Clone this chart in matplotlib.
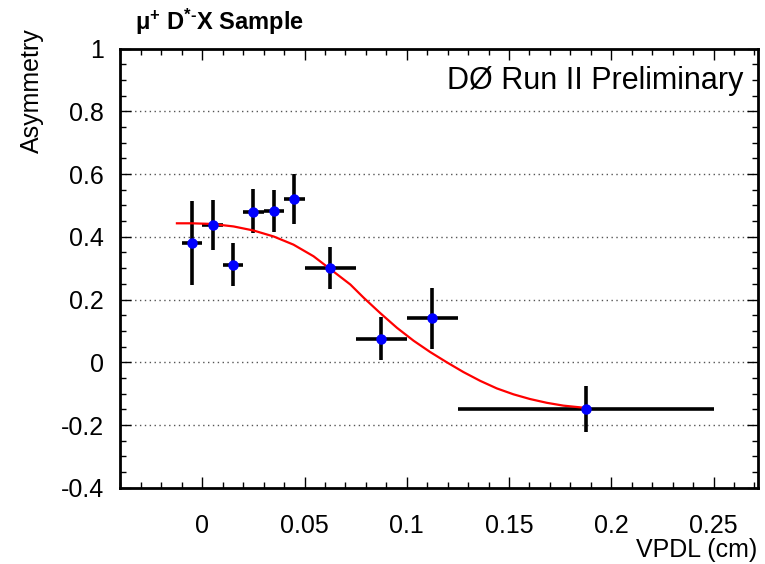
import matplotlib
matplotlib.use('Agg')
from matplotlib import pyplot as plt
from matplotlib.ticker import MultipleLocator, FormatStrFormatter

plt.rcParams['font.family'] = ['Liberation Sans', 'DejaVu Sans']
plt.rcParams['axes.unicode_minus'] = False
plt.rcParams['mathtext.fontset'] = 'custom'
plt.rcParams['mathtext.rm'] = 'Liberation Sans:bold'
plt.rcParams['mathtext.bf'] = 'Liberation Sans:bold'
plt.rcParams['mathtext.it'] = 'Liberation Sans:italic'

# data points (VPDL bin centre, half width, asymmetry, lower/upper error)
vpdl = [-0.005, 0.005, 0.015, 0.025, 0.035, 0.045, 0.0625, 0.0875, 0.1125, 0.1875]
vpdl_err = [0.005, 0.005, 0.005, 0.005, 0.005, 0.005, 0.0125, 0.0125, 0.0125, 0.0625]
asym = [0.379, 0.438, 0.311, 0.480, 0.482, 0.520, 0.300, 0.074, 0.141, -0.148]
asym_lo = [0.134, 0.080, 0.068, 0.069, 0.066, 0.079, 0.066, 0.068, 0.097, 0.074]
asym_hi = [0.134, 0.079, 0.068, 0.073, 0.068, 0.080, 0.068, 0.070, 0.097, 0.073]

# fit curve
fit_x = [-0.0124, -0.005, 0.0047, 0.0153, 0.0251, 0.0349, 0.0446, 0.0544, 0.0626,
         0.0724, 0.0789, 0.087, 0.0952, 0.1033, 0.1114, 0.1196, 0.1277, 0.1359,
         0.144, 0.1522, 0.1603, 0.1685, 0.1766, 0.1856, 0.1875]
fit_y = [0.443, 0.443, 0.441, 0.433, 0.420, 0.401, 0.375, 0.338, 0.297,
         0.248, 0.206, 0.157, 0.110, 0.069, 0.033, 0.000, -0.031, -0.059,
         -0.083, -0.102, -0.117, -0.129, -0.138, -0.144, -0.147]

fig = plt.figure(figsize=(7.65, 5.64), dpi=100)
ax = fig.add_axes([0.1575, 0.135, 0.834, 0.779])

ax.set_xlim(-0.04, 0.272)
ax.set_ylim(-0.4, 1.0)

for yv in [-0.2, 0, 0.2, 0.4, 0.6, 0.8]:
    ax.axhline(yv, color='#555555', lw=1.0, ls=(0, (1, 2.5)), zorder=1)

ax.errorbar(vpdl, asym, xerr=vpdl_err, yerr=[asym_lo, asym_hi], fmt='none',
            ecolor='black', elinewidth=2.6, capsize=0, zorder=2)
ax.plot(fit_x, fit_y, color='red', lw=1.6, zorder=3, solid_joinstyle='round')
ax.plot(vpdl, asym, 'o', color='blue', ms=6.5, mec='blue', zorder=4)

ax.xaxis.set_major_locator(MultipleLocator(0.05))
ax.xaxis.set_minor_locator(MultipleLocator(0.01))
ax.yaxis.set_major_locator(MultipleLocator(0.2))
ax.yaxis.set_minor_locator(MultipleLocator(0.05))
ax.xaxis.set_major_formatter(FormatStrFormatter('%g'))
ax.yaxis.set_major_formatter(FormatStrFormatter('%g'))
ax.tick_params(which='both', direction='in', top=True, right=True, width=1)
ax.tick_params(which='major', length=8)
ax.tick_params(which='minor', length=4)
ax.tick_params(axis='x', labelsize=18, pad=19)
ax.tick_params(axis='y', labelsize=18, pad=12)
for sp in ax.spines.values():
    sp.set_linewidth(2)

fig.text(757 / 765, 1 - 550 / 564, 'VPDL (cm)', ha='right', va='center', fontsize=18)
fig.text(32 / 765, 1 - 28 / 564, 'Asymmetry', rotation=90, ha='center', va='top', fontsize=18)
fig.text(135 / 765, 1 - 30 / 564, r'μ$^{+}$ D$^{*\text{-}}$X Sample',
         ha='left', va='baseline', fontsize=17, fontweight='bold')
ax.text(0.977, 0.925, 'DØ Run II Preliminary', transform=ax.transAxes,
        ha='right', va='center', fontsize=22)

fig.savefig('out.png', dpi=100)
